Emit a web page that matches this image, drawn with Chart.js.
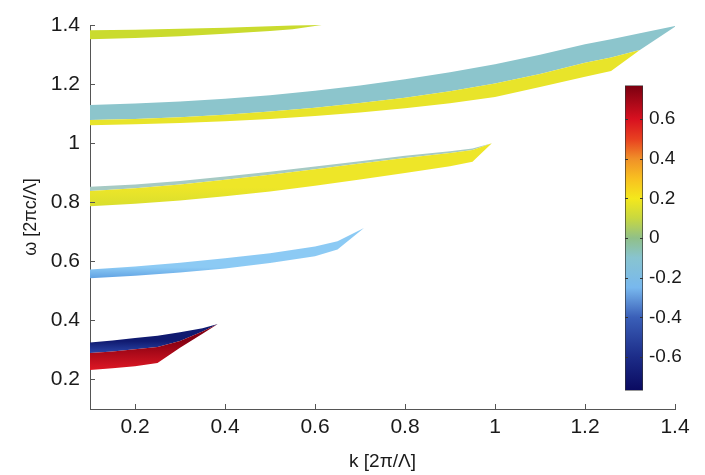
<!DOCTYPE html>
<html>
<head>
<meta charset="utf-8">
<script src="https://cdn.jsdelivr.net/npm/chart.js@4.4.1/dist/chart.umd.min.js"></script>
<style>
  html, body { margin: 0; padding: 0; background: #fff; }
  #wrap { position: relative; width: 705px; height: 475px; }
  #bands { position: absolute; left: 0; top: 0; }
  #cbar { position: absolute; left: 600px; top: 68px; }
</style>
</head>
<body>
<div id="wrap">
  <canvas id="bands" width="705" height="475"></canvas>
  <canvas id="cbar" width="105" height="340"></canvas>
</div>
<script>
// band 1 (lowest, red / navy)
var k1 = [0.1, 0.15, 0.2, 0.25, 0.3, 0.35, 0.384];
var w1Bot = [0.232, 0.238, 0.245, 0.256, 0.307, 0.355, 0.388];
var w1Mid = [0.29, 0.295, 0.302, 0.31, 0.33, 0.362, 0.388];
var w1Top = [0.325, 0.332, 0.34, 0.348, 0.36, 0.373, 0.388];

// band 2 (light blue)
var k2 = [0.1, 0.2, 0.3, 0.4, 0.5, 0.6, 0.65, 0.709];
var w2Bot = [0.543, 0.551, 0.562, 0.576, 0.594, 0.617, 0.64, 0.713];
var w2Top = [0.572, 0.582, 0.595, 0.61, 0.627, 0.65, 0.668, 0.713];

// band 3 (yellow, blue rim)
var k3 = [0.1, 0.2, 0.3, 0.4, 0.5, 0.6, 0.7, 0.8, 0.9, 0.95, 0.993];
var w3Bot = [0.786, 0.795, 0.806, 0.82, 0.836, 0.856, 0.877, 0.899, 0.922, 0.937, 1.0];
var w3Mid = [0.838, 0.847, 0.86, 0.876, 0.893, 0.912, 0.931, 0.95, 0.967, 0.977, 1.0];
var w3Top = [0.852, 0.86, 0.872, 0.887, 0.903, 0.921, 0.939, 0.957, 0.973, 0.982, 1.0];

// band 4 (teal over yellow)
var k4 = [0.1, 0.2, 0.3, 0.4, 0.5, 0.6, 0.7, 0.8, 0.9, 1.0, 1.1, 1.2, 1.258, 1.322, 1.404];
var w4Bot = [1.061, 1.064, 1.068, 1.074, 1.082, 1.092, 1.104, 1.118, 1.135, 1.156, 1.19, 1.225, 1.244, 1.315, 1.398];
var w4Mid = [1.078, 1.082, 1.088, 1.096, 1.107, 1.12, 1.136, 1.154, 1.176, 1.202, 1.234, 1.272, 1.29, 1.315, 1.398];
var w4Top = [1.129, 1.134, 1.141, 1.15, 1.162, 1.177, 1.195, 1.216, 1.24, 1.267, 1.299, 1.335, 1.352, 1.372, 1.398];

// band 5 (top, yellow-green)
var k5 = [0.1, 0.2, 0.3, 0.4, 0.5, 0.55, 0.615];
var w5Bot = [1.352, 1.356, 1.362, 1.37, 1.38, 1.386, 1.4];
var w5Top = [1.382, 1.384, 1.387, 1.391, 1.396, 1.398, 1.4];

// colour bar
var cbValues = [-0.77, -0.6, -0.4, -0.25, -0.1, 0, 0.1, 0.2, 0.3, 0.4, 0.5, 0.6, 0.77];
var cbColors = ['#0a0a60', '#1c2c88', '#3a5fb8', '#78b8ee', '#88c4d0', '#90c088', '#c8d840',
                '#f4e81c', '#f8c020', '#f09028', '#e84020', '#d81020', '#7a0010'];

var FONT = "'Liberation Sans', Arial, sans-serif";

function pts(xs, ys) {
  return xs.map(function (x, i) { return {x: x, y: ys[i]}; });
}

function vGrad(yTop, yBot, cTop, cBot) {
  return function (c) {
    var ch = c.chart;
    if (!ch.chartArea) return cTop;
    var y = ch.scales.y;
    var g = ch.ctx.createLinearGradient(0, y.getPixelForValue(yTop), 0, y.getPixelForValue(yBot));
    g.addColorStop(0, cTop);
    g.addColorStop(1, cBot);
    return g;
  };
}

var datasets = [];
function band(xs, edges, fills) {
  edges.forEach(function (e, i) {
    datasets.push({
      data: pts(xs, e),
      fill: i === 0 ? false : '-1',
      backgroundColor: i === 0 ? 'transparent' : fills[i - 1],
      borderColor: 'transparent',
      borderWidth: 0,
      pointRadius: 0,
      tension: 0
    });
  });
}

band(k1, [w1Bot, w1Mid, w1Top], [vGrad(0.33, 0.23, '#860012', '#e01824'), vGrad(0.33, 0.29, '#101a70', '#2a44a6')]);
band(k2, [w2Bot, w2Top], [vGrad(0.58, 0.54, '#8ccaf4', '#5d9fe2')]);
band(k3, [w3Bot, w3Mid, w3Top], [vGrad(0.85, 0.79, '#eee628', '#dadf2e'), '#a6cac4']);
band(k4, [w4Bot, w4Mid, w4Top], ['#e8e42a', '#8cc5cc']);
band(k5, [w5Bot, w5Top], ['#cadb2e']);

var inwardTicks = {
  id: 'inwardTicks',
  afterDraw: function (chart) {
    var ctx = chart.ctx, a = chart.chartArea, x = chart.scales.x, y = chart.scales.y;
    ctx.save();
    ctx.strokeStyle = '#555';
    ctx.lineWidth = 1;
    x.ticks.forEach(function (t) {
      var px = Math.round(x.getPixelForValue(t.value)) + 0.5;
      ctx.beginPath(); ctx.moveTo(px, a.bottom); ctx.lineTo(px, a.bottom - 5); ctx.stroke();
    });
    y.ticks.forEach(function (t) {
      var py = Math.round(y.getPixelForValue(t.value)) + 0.5;
      ctx.beginPath(); ctx.moveTo(a.left, py); ctx.lineTo(a.left + 5, py); ctx.stroke();
    });
    ctx.restore();
  }
};

function fmt(v) { return String(+v.toFixed(1)); }

new Chart(document.getElementById('bands'), {
  type: 'line',
  data: {datasets: datasets},
  options: {
    responsive: false,
    animation: false,
    layout: {padding: {top: 25, right: 30, left: 0, bottom: 0}},
    plugins: {legend: {display: false}, tooltip: {enabled: false}},
    scales: {
      x: {
        type: 'linear', min: 0.1, max: 1.4,
        grid: {display: false, drawTicks: false},
        border: {display: true, color: '#555', width: 1},
        ticks: {stepSize: 0.2, includeBounds: false, padding: 6, color: '#1a1a1a',
                font: {family: FONT, size: 21}, callback: fmt},
        title: {display: true, text: 'k [2π/Λ]', color: '#1a1a1a', font: {family: FONT, size: 19},
                padding: {top: 0, bottom: 2}},
        afterFit: function (s) { s.height = 66; }
      },
      y: {
        type: 'linear', min: 0.1, max: 1.4,
        grid: {display: false, drawTicks: false},
        border: {display: true, color: '#555', width: 1},
        ticks: {stepSize: 0.2, includeBounds: false, padding: 10, color: '#1a1a1a',
                font: {family: FONT, size: 21}, callback: fmt},
        title: {display: true, text: 'ω [2πc/Λ]', color: '#1a1a1a', font: {family: FONT, size: 18},
                padding: {top: 20, bottom: 0}},
        afterFit: function (s) { s.width = 90; }
      }
    }
  },
  plugins: [inwardTicks]
});

// colour bar as a floating bar on its own small chart
var cbTicks = {
  id: 'cbTicks',
  afterDraw: function (chart) {
    var ctx = chart.ctx, a = chart.chartArea, y = chart.scales.y;
    ctx.save();
    ctx.strokeStyle = '#333';
    ctx.lineWidth = 1;
    y.ticks.forEach(function (t) {
      var py = Math.round(y.getPixelForValue(t.value)) + 0.5;
      ctx.beginPath(); ctx.moveTo(a.right, py); ctx.lineTo(a.right - 3, py); ctx.stroke();
      ctx.beginPath(); ctx.moveTo(a.left, py); ctx.lineTo(a.left + 3, py); ctx.stroke();
    });
    ctx.restore();
  }
};

new Chart(document.getElementById('cbar'), {
  type: 'bar',
  data: {
    labels: ['c'],
    datasets: [{
      data: [[cbValues[0], cbValues[cbValues.length - 1]]],
      barPercentage: 1,
      categoryPercentage: 1,
      borderColor: '#333',
      borderWidth: 1,
      borderSkipped: false,
      backgroundColor: function (c) {
        var ch = c.chart;
        if (!ch.chartArea) return cbColors[0];
        var y = ch.scales.y;
        var lo = cbValues[0], hi = cbValues[cbValues.length - 1];
        var g = ch.ctx.createLinearGradient(0, y.getPixelForValue(lo), 0, y.getPixelForValue(hi));
        cbValues.forEach(function (v, i) { g.addColorStop((v - lo) / (hi - lo), cbColors[i]); });
        return g;
      }
    }]
  },
  options: {
    responsive: false,
    animation: false,
    layout: {padding: {top: 3, bottom: 3, left: 25, right: 0}},
    plugins: {legend: {display: false}, tooltip: {enabled: false}},
    scales: {
      x: {display: false},
      y: {
        position: 'right',
        min: cbValues[0], max: cbValues[cbValues.length - 1],
        grid: {display: false, drawTicks: false},
        border: {display: false},
        ticks: {stepSize: 0.2, includeBounds: false, padding: 6, color: '#1a1a1a',
                font: {family: FONT, size: 19}, callback: fmt},
        afterFit: function (s) { s.width = 62; }
      }
    }
  },
  plugins: [cbTicks]
});
</script>
</body>
</html>
